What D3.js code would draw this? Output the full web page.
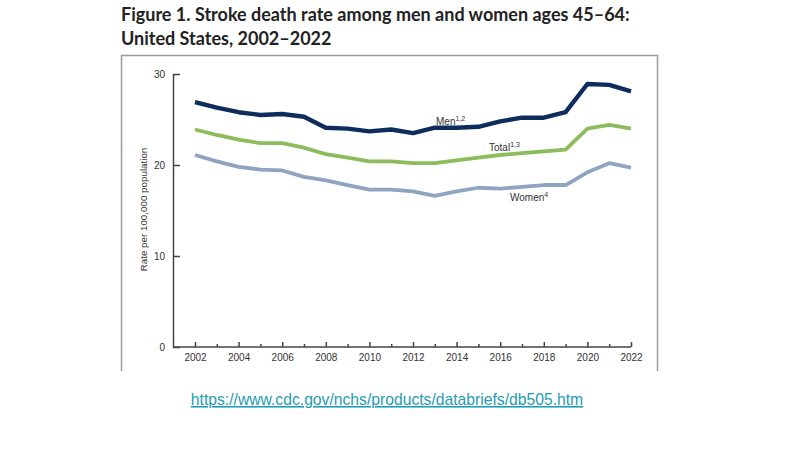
<!DOCTYPE html>
<html>
<head>
<meta charset="utf-8">
<script src="https://cdn.jsdelivr.net/npm/d3@7"></script>
<style>
  body { margin: 0; background: #fff; }
  svg { display: block; }
</style>
</head>
<body>
<div class="chart"></div>
<script>
// chart data
var years = d3.range(2002, 2023);
var men = [26.9, 26.3, 25.8, 25.5, 25.6, 25.3, 24.1, 24.0, 23.7, 23.9, 23.5,
           24.1, 24.1, 24.2, 24.8, 25.2, 25.2, 25.8, 28.9, 28.8, 28.1];
var total = [23.9, 23.3, 22.8, 22.4, 22.4, 21.9, 21.2, 20.8, 20.4, 20.4, 20.2,
             20.2, 20.5, 20.8, 21.1, 21.3, 21.5, 21.7, 24.0, 24.4, 24.0];
var women = [21.1, 20.4, 19.8, 19.5, 19.4, 18.7, 18.3, 17.8, 17.3, 17.3, 17.1,
             16.6, 17.1, 17.5, 17.4, 17.6, 17.8, 17.8, 19.2, 20.2, 19.7];
var yTicks = [0, 10, 20, 30];
var majorYears = d3.range(2002, 2023, 2);
var minorYears = d3.range(2003, 2022, 2);

var svgWidth = 806;
var svgHeight = 453;

var svg = d3.select(".chart")
  .append("svg")
  .attr("width", svgWidth)
  .attr("height", svgHeight);

// title
var title = svg.append("g")
  .attr("font-family", "Lato, 'Open Sans', sans-serif")
  .attr("font-weight", "bold")
  .attr("font-size", "18px")
  .attr("fill", "#222");
title.append("text").attr("x", 121).attr("y", 21)
  .text("Figure 1. Stroke death rate among men and women ages 45\u201364:");
title.append("text").attr("x", 121).attr("y", 45)
  .text("United States, 2002\u20132022");

// frame around the figure (bottom is cut off in the original)
svg.append("path")
  .attr("d", "M121.5,371V55.5H657.5V371")
  .attr("fill", "none")
  .attr("stroke", "#9a9a9a")
  .attr("stroke-width", 1.5);

// scales
var x = d3.scaleLinear().domain([2002, 2022]).range([195, 631]);
var y = d3.scaleLinear().domain([0, 30]).range([347, 74]);
var axisX0 = 173;

var font = "'Liberation Sans', Arial, sans-serif";

// y axis
var yAxis = d3.axisLeft(y)
  .tickValues(yTicks)
  .tickSizeInner(-7)
  .tickSizeOuter(0)
  .tickPadding(8);

var yG = svg.append("g")
  .attr("transform", `translate(${axisX0},0)`)
  .call(yAxis);

// x axis: major ticks with labels, minor ticks without
var xAxis = d3.axisBottom(x)
  .tickValues(majorYears)
  .tickFormat(d3.format("d"))
  .tickSizeInner(-5)
  .tickSizeOuter(0)
  .tickPadding(7);

var xG = svg.append("g")
  .attr("transform", `translate(0,${y(0)})`)
  .call(xAxis);

var xMinor = svg.append("g")
  .attr("transform", `translate(0,${y(0)})`)
  .call(d3.axisBottom(x).tickValues(minorYears).tickFormat("").tickSizeInner(-3).tickSizeOuter(0));
xMinor.select(".domain").remove();

xG.select(".domain").attr("d", `M${axisX0},0H${x(2022)}`);

[yG, xG, xMinor].forEach(function(g) {
  g.selectAll("path, line").attr("stroke", "#444").attr("stroke-width", 1.5);
  g.selectAll("text")
    .attr("font-family", font)
    .attr("font-size", "10px")
    .attr("fill", "#333");
});

// y axis title
svg.append("text")
  .attr("transform", `translate(147,${y(15) - 1}) rotate(-90)`)
  .attr("text-anchor", "middle")
  .attr("font-family", font)
  .attr("font-size", "9.8px")
  .attr("fill", "#333")
  .text("Rate per 100,000 population");

// lines
var series = [
  { name: "Men", values: men, color: "#0e2d5c", width: 4.4 },
  { name: "Total", values: total, color: "#8cbc5b", width: 3.8 },
  { name: "Women", values: women, color: "#8ea4c0", width: 3.8 }
];

var line = d3.line()
  .x(function(d, i) { return x(years[i]); })
  .y(function(d) { return y(d); });

svg.selectAll(".series")
  .data(series)
  .enter()
  .append("path")
  .attr("class", "series")
  .attr("d", function(d) { return line(d.values); })
  .attr("fill", "none")
  .attr("stroke", function(d) { return d.color; })
  .attr("stroke-width", function(d) { return d.width; })
  .attr("stroke-linejoin", "round");

// series labels with footnote superscripts
var labels = [
  { text: "Men", sup: "1,2", x: 436, y: 125 },
  { text: "Total", sup: "1,3", x: 489, y: 151 },
  { text: "Women", sup: "4", x: 510, y: 201 }
];

labels.forEach(function(l) {
  var t = svg.append("text")
    .attr("x", l.x)
    .attr("y", l.y)
    .attr("font-family", font)
    .attr("font-size", "10px")
    .attr("fill", "#333");
  t.append("tspan").text(l.text);
  t.append("tspan").attr("dy", -4).attr("font-size", "7px").text(l.sup);
});

// source link
svg.append("text")
  .attr("x", 387)
  .attr("y", 405)
  .attr("text-anchor", "middle")
  .attr("font-family", font)
  .attr("font-size", "15.7px")
  .attr("fill", "#1f9cb3")
  .attr("text-decoration", "underline")
  .text("https://www.cdc.gov/nchs/products/databriefs/db505.htm");
</script>
</body>
</html>
